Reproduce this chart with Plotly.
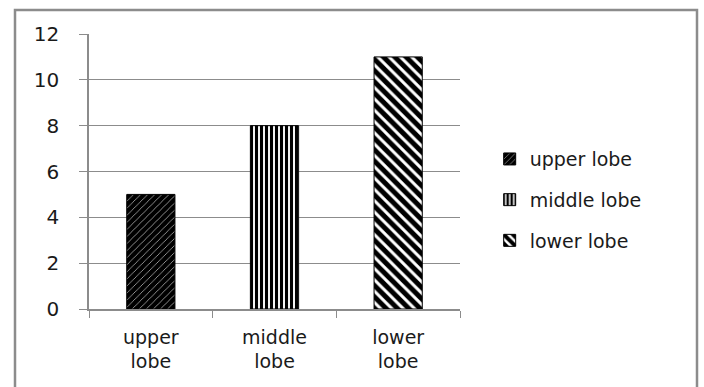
import plotly.graph_objects as go

categories = ["upper<br>lobe", "middle<br>lobe", "lower<br>lobe"]
series_names = ["upper lobe", "middle lobe", "lower lobe"]
counts = [5, 8, 11]
y_ticks = [0, 2, 4, 6, 8, 10, 12]

# one pattern per lobe: fine light slashes on black, vertical stripes, bold back-slashes
patterns = [
    dict(shape="/", fgcolor="#bbbbbb", bgcolor="black", size=5, solidity=0.15, fillmode="replace"),
    dict(shape="|", fgcolor="black", bgcolor="white", size=5, solidity=0.62, fillmode="replace"),
    dict(shape="\\", fgcolor="black", bgcolor="white", size=8, solidity=0.62, fillmode="replace"),
]

W, H = 704, 387
ML, MR, MT, MB = 89, 244, 34, 78
PW, PH = W - ML - MR, H - MT - MB
FONT = "DejaVu Sans"

fig = go.Figure()
for cat, name, val, pat in zip(categories, series_names, counts, patterns):
    fig.add_trace(go.Bar(
        x=[cat], y=[val], name=name, width=0.39,
        marker=dict(color="black", pattern=pat, line=dict(color="black", width=1)),
        legendgroup=name,
    ))

# outer chart frame
fig.add_shape(type="rect", xref="paper", yref="paper",
              x0=(15 - ML) / PW, x1=(697 - ML) / PW,
              y0=(H - MB - 395) / PH, y1=(H - MB - 10) / PH,
              line=dict(color="#8c8c8c", width=2.5), layer="below")

fig.update_layout(
    width=W, height=H,
    margin=dict(l=ML, r=MR, t=MT, b=MB),
    paper_bgcolor="white", plot_bgcolor="white",
    barmode="overlay",
    font=dict(family=FONT, size=19, color="#1a1a1a"),
    showlegend=True,
    legend=dict(x=1.08, y=0.396, xanchor="left", yanchor="middle",
                font=dict(family=FONT, size=19, color="#1a1a1a"), tracegroupgap=13,
                itemwidth=30, bgcolor="rgba(0,0,0,0)"),
    xaxis=dict(categoryorder="array", categoryarray=categories,
               showline=True, linecolor="#8c8c8c", linewidth=1.5,
               ticks="outside", tickson="boundaries", ticklen=7, tickcolor="#8c8c8c",
               showgrid=False, tickfont=dict(size=19), ticklabelstandoff=10),
    yaxis=dict(range=[0, 12], tickvals=y_ticks, showline=True, linecolor="#8c8c8c",
               linewidth=1.5, ticks="outside", ticklen=8, tickcolor="#8c8c8c",
               showgrid=True, gridcolor="#8c8c8c", gridwidth=1.2, zeroline=False,
               tickfont=dict(size=20), ticklabelstandoff=16),
)

fig.write_html("out.html")
